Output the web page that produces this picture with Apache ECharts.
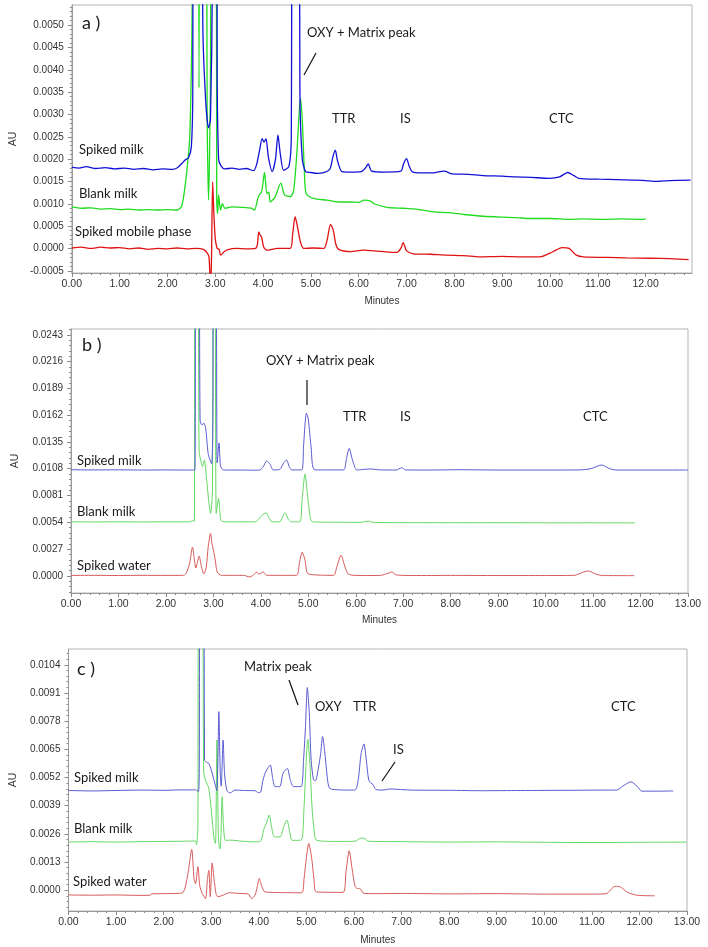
<!DOCTYPE html>
<html><head><meta charset="utf-8">
<script src="https://cdn.jsdelivr.net/npm/echarts@6/dist/echarts.min.js"></script>
<style>html,body{margin:0;padding:0;background:#fff}#c{width:708px;height:947px}</style>
</head><body><div id="c"></div>
<script>
// ---------- Panel a: time (min), absorbance (AU) ----------
const aSpikedMilk = [[0,0.00182],[0.15,0.00180],[0.3,0.00183],[0.5,0.00179],[0.7,0.00181],[0.9,0.00178],[1.1,0.00180],[1.3,0.00177],[1.5,0.00179],[1.7,0.00176],[1.9,0.00178],[2.1,0.00177],[2.2,0.00180],[2.3,0.00190],[2.37,0.00198],[2.44,0.00203],[2.5,0.00228],[2.53,0.0035],[2.56,0.02],[2.66,0.02],[2.74,0.0050],[2.8,0.0033],[2.86,0.0027],[2.9,0.0029],[2.94,0.006],[2.97,0.02],[3.02,0.02],[3.04,0.004],[3.07,0.0020],[3.12,0.00185],[3.2,0.00178],[3.35,0.00180],[3.5,0.00177],[3.65,0.00179],[3.8,0.00174],[3.87,0.0019],[3.93,0.00222],[3.98,0.00246],[4.02,0.00238],[4.06,0.00246],[4.11,0.00205],[4.19,0.00172],[4.26,0.00200],[4.31,0.00254],[4.36,0.00212],[4.43,0.00175],[4.54,0.00183],[4.59,0.0025],[4.63,0.02],[4.72,0.02],[4.77,0.0035],[4.82,0.0020],[4.89,0.00172],[5.0,0.00170],[5.13,0.00168],[5.3,0.00171],[5.4,0.00178],[5.46,0.00205],[5.51,0.0022],[5.56,0.00195],[5.65,0.00172],[5.83,0.00171],[6.05,0.00172],[6.14,0.00180],[6.2,0.00189],[6.27,0.00173],[6.53,0.00171],[6.88,0.00173],[6.94,0.00190],[7.0,0.00201],[7.06,0.00183],[7.13,0.00171],[7.5,0.00169],[7.79,0.00173],[7.95,0.00167],[8.3,0.00166],[8.6,0.00163],[9.0,0.00162],[9.29,0.00160],[9.6,0.00159],[9.99,0.00157],[10.2,0.00160],[10.37,0.0017],[10.5,0.00163],[10.6,0.00157],[11.03,0.00155],[11.4,0.00154],[11.73,0.00153],[12.0,0.00152],[12.21,0.00150],[12.5,0.00152],[12.94,0.00153]];
const aBlankMilk = [[0,0.00093],[0.2,0.00090],[0.4,0.00091],[0.6,0.00088],[0.8,0.00089],[1.0,0.00087],[1.2,0.00088],[1.4,0.00086],[1.6,0.00087],[1.8,0.00086],[2.0,0.00087],[2.2,0.00086],[2.3,0.00095],[2.4,0.00168],[2.47,0.0026],[2.52,0.006],[2.55,0.02],[2.62,0.02],[2.66,0.0036],[2.7,0.02],[2.78,0.02],[2.83,0.003],[2.86,0.00108],[2.9,0.004],[2.93,0.02],[3.0,0.02],[3.03,0.0012],[3.05,0.00078],[3.07,0.0012],[3.11,0.00086],[3.15,0.0010],[3.2,0.00090],[3.35,0.00093],[3.55,0.00092],[3.75,0.00090],[3.82,0.00086],[3.9,0.00116],[3.97,0.00127],[4.03,0.0017],[4.08,0.00123],[4.12,0.00126],[4.15,0.00104],[4.25,0.00115],[4.37,0.00146],[4.45,0.0012],[4.57,0.00116],[4.64,0.0013],[4.71,0.0022],[4.78,0.00336],[4.82,0.00287],[4.86,0.00183],[4.9,0.00123],[5.05,0.00112],[5.34,0.00108],[5.6,0.00104],[5.83,0.00104],[6.0,0.00103],[6.11,0.00108],[6.25,0.00106],[6.32,0.00100],[6.59,0.00092],[6.93,0.0009],[7.2,0.00088],[7.56,0.00082],[7.9,0.00080],[8.2,0.00076],[8.6,0.00072],[9.0,0.00070],[9.3,0.00069],[9.58,0.00067],[10.0,0.00067],[10.4,0.00065],[10.7,0.00066],[11.1,0.00065],[11.5,0.00066],[11.96,0.00065],[12.0,0.00067]];
const aSpikedMobile = [[0,0.00001],[0.2,0.00003],[0.4,0.00000],[0.6,0.00003],[0.8,0.00001],[1.0,0.00002],[1.2,-0.00001],[1.4,0.00001],[1.6,-0.00002],[1.8,0.00000],[2.0,-0.00001],[2.2,0.00001],[2.4,-0.00001],[2.6,0.00000],[2.75,-0.00002],[2.83,-0.0001],[2.87,-0.0002],[2.9,-0.0009],[2.92,-0.0003],[2.945,0.00149],[2.97,0.0008],[3.0,0.00022],[3.04,0.0],[3.08,-0.00002],[3.11,-0.00015],[3.18,-0.00008],[3.25,-0.00003],[3.45,0.00000],[3.65,-0.00001],[3.84,0.0],[3.88,0.00008],[3.91,0.00037],[3.94,0.0003],[3.97,0.00025],[4.01,0.00004],[4.08,-0.00004],[4.3,0.0],[4.57,0.0],[4.62,0.00034],[4.67,0.00071],[4.72,0.00048],[4.78,0.00015],[4.85,0.0],[5.05,0.00001],[5.27,0.0],[5.34,0.00019],[5.41,0.00054],[5.47,0.0004],[5.52,0.0001],[5.58,-0.00002],[5.83,-0.00007],[6.1,-0.00004],[6.4,-0.00006],[6.8,-0.00009],[6.88,0.0],[6.93,0.00013],[7.0,-0.00005],[7.14,-0.00012],[7.5,-0.00013],[7.84,-0.00015],[8.2,-0.00016],[8.53,-0.00019],[9.0,-0.00018],[9.4,-0.00019],[9.79,-0.00019],[10.05,-0.00008],[10.25,0.00002],[10.4,0.00000],[10.55,-0.00015],[10.7,-0.00019],[11.2,-0.0002],[11.6,-0.00021],[12.1,-0.00022],[12.5,-0.00023],[12.9,-0.00025]];

// ---------- Panel b ----------
const bSpikedMilk = [[0,0.01070],[0.5,0.01068],[1.0,0.01069],[1.5,0.01067],[2.0,0.01068],[2.4,0.01067],[2.61,0.01068],[2.63,0.04],[2.69,0.04],[2.72,0.0157],[2.76,0.0152],[2.8,0.0154],[2.84,0.0148],[2.89,0.01235],[2.96,0.0113],[2.99,0.016],[3.0,0.04],[3.05,0.04],[3.08,0.0114],[3.12,0.0134],[3.15,0.0111],[3.21,0.01067],[3.63,0.01067],[3.85,0.01065],[3.98,0.01068],[4.05,0.011],[4.12,0.01158],[4.19,0.0113],[4.26,0.01068],[4.4,0.01074],[4.47,0.0113],[4.54,0.01168],[4.6,0.011],[4.65,0.01068],[4.86,0.01068],[4.9,0.0131],[4.96,0.01639],[5.0,0.0158],[5.06,0.0129],[5.14,0.01068],[5.74,0.01068],[5.8,0.0117],[5.86,0.01285],[5.93,0.0117],[6.02,0.01068],[6.1,0.0107],[6.3,0.01078],[6.5,0.01069],[6.85,0.01067],[6.97,0.0109],[7.05,0.01068],[7.5,0.01067],[8.2,0.0107],[9.0,0.01067],[10.0,0.01067],[10.7,0.01068],[10.95,0.0108],[11.18,0.01118],[11.35,0.0108],[11.5,0.01067],[12.0,0.01067],[13.0,0.01067]];
const bBlankMilk = [[0,0.00545],[0.5,0.00544],[1.0,0.00545],[1.5,0.00544],[2.0,0.00545],[2.5,0.00546],[2.58,0.0056],[2.6,0.0055],[2.61,0.04],[2.67,0.04],[2.7,0.0125],[2.75,0.01134],[2.77,0.0110],[2.81,0.01167],[2.86,0.0096],[2.9,0.0076],[2.94,0.0063],[2.98,0.0085],[3.0,0.04],[3.03,0.04],[3.06,0.0063],[3.11,0.0078],[3.14,0.0063],[3.17,0.00555],[3.3,0.00545],[3.6,0.00545],[3.89,0.00545],[3.93,0.0056],[4.02,0.0061],[4.11,0.00636],[4.17,0.0059],[4.23,0.00545],[4.4,0.00545],[4.45,0.0059],[4.51,0.00636],[4.57,0.0058],[4.64,0.00545],[4.82,0.00545],[4.87,0.0077],[4.93,0.01027],[4.98,0.0083],[5.04,0.0059],[5.09,0.00545],[5.6,0.00541],[6.09,0.0054],[6.2,0.00547],[6.27,0.00553],[6.35,0.0054],[7.0,0.00537],[8.0,0.00536],[9.0,0.00536],[10.0,0.00535],[11.0,0.00535],[11.88,0.00535]];
const bSpikedWater = [[0,0.00005],[0.5,0.00006],[1.0,0.00004],[1.5,0.00006],[2.0,0.00005],[2.37,0.00006],[2.44,0.0004],[2.5,0.0013],[2.56,0.0029],[2.6,0.0016],[2.63,0.0008],[2.66,0.0013],[2.7,0.0020],[2.75,0.0009],[2.8,0.0002],[2.85,0.0009],[2.89,0.0029],[2.94,0.00428],[2.97,0.0033],[3.0,0.0026],[3.04,0.0016],[3.08,0.0004],[3.17,0.00006],[3.63,0.00006],[3.77,-0.0001],[3.87,0.0002],[3.91,0.0004],[3.96,0.00018],[4.05,0.0004],[4.12,0.00006],[4.75,0.00006],[4.81,0.0012],[4.87,0.0024],[4.93,0.0016],[5.0,0.0002],[5.53,0.00006],[5.6,0.0009],[5.69,0.0021],[5.76,0.0011],[5.84,0.0002],[6.0,0.00005],[6.5,0.00004],[6.7,0.0003],[6.76,0.0004],[6.85,0.0001],[7.2,0.00004],[8.0,0.00005],[9.0,0.00004],[10.0,0.00004],[10.6,0.00006],[10.8,0.0004],[10.9,0.0005],[11.05,0.0002],[11.2,0.00004],[11.87,0.00003]];

// ---------- Panel c ----------
const cSpikedMilk = [[0,0.00460],[0.5,0.00458],[1.0,0.00460],[1.5,0.00462],[2.0,0.00461],[2.4,0.00463],[2.67,0.00463],[2.73,0.00454],[2.75,0.0060],[2.76,0.03],[2.83,0.03],[2.86,0.0060],[2.9,0.0059],[2.95,0.00585],[3.02,0.0054],[3.09,0.0048],[3.12,0.0046],[3.14,0.0060],[3.16,0.00824],[3.19,0.0054],[3.21,0.0048],[3.25,0.00693],[3.28,0.0054],[3.33,0.0046],[3.4,0.00449],[3.5,0.00462],[3.7,0.0046],[3.92,0.00459],[3.99,0.0045],[4.04,0.00453],[4.08,0.0050],[4.13,0.00539],[4.18,0.0056],[4.24,0.00578],[4.29,0.0052],[4.34,0.00478],[4.44,0.00478],[4.51,0.0054],[4.6,0.00562],[4.66,0.0051],[4.73,0.00478],[4.89,0.00478],[4.94,0.0060],[4.98,0.0075],[5.02,0.00935],[5.06,0.0082],[5.1,0.0060],[5.15,0.0051],[5.19,0.00505],[5.25,0.0056],[5.3,0.0063],[5.34,0.00709],[5.39,0.0063],[5.44,0.0052],[5.49,0.00470],[5.7,0.00463],[6.02,0.00462],[6.09,0.0051],[6.15,0.0063],[6.21,0.00675],[6.26,0.006],[6.31,0.00508],[6.36,0.00493],[6.4,0.00488],[6.46,0.00465],[6.6,0.00462],[6.76,0.00467],[7.2,0.00462],[8.0,0.00461],[8.67,0.00459],[9.5,0.0046],[10.5,0.00461],[11.3,0.00462],[11.52,0.00462],[11.65,0.0048],[11.82,0.005],[11.95,0.0048],[12.05,0.00457],[12.4,0.00457],[12.71,0.00458]];
const cBlankMilk = [[0,0.00222],[0.5,0.00224],[1.0,0.00222],[1.5,0.00224],[2.0,0.00225],[2.4,0.00226],[2.67,0.00227],[2.69,0.0021],[2.72,0.0030],[2.74,0.03],[2.8,0.03],[2.84,0.0055],[2.88,0.00508],[2.95,0.0047],[3.02,0.00324],[3.06,0.00235],[3.09,0.00216],[3.12,0.00693],[3.15,0.0025],[3.17,0.00200],[3.19,0.0019],[3.23,0.00431],[3.26,0.0029],[3.3,0.0023],[3.4,0.00231],[3.7,0.00225],[3.99,0.00223],[4.05,0.0023],[4.1,0.00277],[4.16,0.0031],[4.22,0.00347],[4.27,0.0029],[4.33,0.00246],[4.45,0.00246],[4.52,0.0029],[4.59,0.00324],[4.65,0.0027],[4.7,0.0023],[4.89,0.00231],[4.95,0.0038],[4.99,0.0057],[5.03,0.00696],[5.07,0.0060],[5.12,0.0038],[5.17,0.0026],[5.21,0.00231],[5.6,0.00225],[6.02,0.00226],[6.14,0.0024],[6.21,0.0024],[6.3,0.00226],[7.0,0.00224],[8.0,0.00222],[9.0,0.00223],[10.0,0.00221],[11.0,0.0022],[12.0,0.00221],[12.99,0.00222]];
const cSpikedWater = [[0,-0.00022],[0.5,-0.00023],[1.0,-0.00022],[1.5,-0.00024],[1.72,-0.00023],[1.74,-0.00017],[2.0,-0.00016],[2.39,-0.00013],[2.45,0.0001],[2.52,0.0009],[2.59,0.00188],[2.64,0.0005],[2.67,0.0003],[2.72,0.00108],[2.76,0.0002],[2.81,-0.00015],[2.88,-0.00039],[2.92,0.0005],[2.95,0.00092],[2.98,-0.0003],[3.02,0.00126],[3.06,0.0005],[3.1,-0.00015],[3.14,-0.0003],[3.25,-0.00023],[3.37,-0.00012],[3.6,-0.00015],[3.78,-0.00018],[3.85,-0.00039],[3.92,-0.00023],[3.97,0.00018],[4.01,0.00054],[4.06,0.0002],[4.13,-0.00008],[4.5,-0.00011],[4.9,-0.00012],[4.95,0.0005],[5.0,0.0015],[5.05,0.00216],[5.11,0.0015],[5.16,0.0005],[5.21,-0.00008],[5.77,-0.0001],[5.83,0.0008],[5.9,0.00182],[5.96,0.001],[6.02,0.0002],[6.07,0.00008],[6.12,0.00008],[6.21,-0.00015],[6.5,-0.00016],[7.0,-0.00015],[8.0,-0.00017],[9.0,-0.00016],[10.0,-0.00018],[11.0,-0.00018],[11.3,-0.00016],[11.49,0.00018],[11.6,0.00015],[11.75,-0.0001],[11.94,-0.00023],[12.32,-0.00026]];

// ---------- tick labels ----------
const aYTicks = [-0.0005,0,0.0005,0.001,0.0015,0.002,0.0025,0.003,0.0035,0.004,0.0045,0.005];
const bYTicks = [0,0.0027,0.0054,0.0081,0.0108,0.0135,0.0162,0.0189,0.0216,0.0243];
const cYTicks = [0,0.0013,0.0026,0.0039,0.0052,0.0065,0.0078,0.0091,0.0104];
const aXTicks = [0,1,2,3,4,5,6,7,8,9,10,11,12];
const bcXTicks = [0,1,2,3,4,5,6,7,8,9,10,11,12,13];
const traceNames = ['Spiked milk','Blank milk','Spiked mobile phase','Spiked water'];

function steps(lo, hi, step) {
  const out = [];
  const n = Math.round((hi - lo) / step);
  for (let i = 0; i <= n; i++) out.push(Math.round((lo + i * step) * 1e7) / 1e7);
  return out;
}

const labelFont = 'Liberation Sans, Arial, sans-serif';
const annFont = 'Lato, "Open Sans", sans-serif';

const panels = [
  { grid: {left: 71, top: 5, width: 621, height: 268}, xMax: 12.97, yMin: -0.00055, yMax: 0.00545,
    yTicks: aYTicks, yMinor: steps(-0.0005, 0.0054, 0.0001), xTicks: aXTicks, xMinor: steps(0, 12.8, 0.2),
    data: [aBlankMilk, aSpikedMilk, aSpikedMobile], names: [traceNames[1], traceNames[0], traceNames[2]],
    colors: ['#1fdc1f', '#1212d6', '#e01212'], lw: 1.3, auGap: 50, minGap: 23 },
  { grid: {left: 71, top: 329, width: 617, height: 264}, xMax: 13, yMin: -0.00172, yMax: 0.02488,
    yTicks: bYTicks, yMinor: steps(-0.00162, 0.02484, 0.00054), xTicks: bcXTicks, xMinor: steps(0, 13, 0.2),
    data: [bBlankMilk, bSpikedMilk, bSpikedWater], names: [traceNames[1], traceNames[0], traceNames[3]],
    colors: ['#62d862', '#5a5ad2', '#d85a5a'], lw: 1, auGap: 50, minGap: 22 },
  { grid: {left: 66, top: 649, width: 621, height: 262}, xMax: 13, yMin: -0.00096, yMax: 0.01113,
    yTicks: cYTicks, yMinor: steps(-0.00078, 0.01092, 0.00026), xTicks: bcXTicks, xMinor: steps(0, 13, 0.2),
    data: [cBlankMilk, cSpikedMilk, cSpikedWater], names: [traceNames[1], traceNames[0], traceNames[3]],
    colors: ['#62d862', '#5a5ad2', '#d85a5a'], lw: 1, auGap: 48, minGap: 24 }
];

const grid = [], xAxis = [], yAxis = [], series = [];
panels.forEach((p, i) => {
  grid.push(Object.assign({show: true, borderColor: '#b5b5b5', borderWidth: 1, backgroundColor: '#fff'}, p.grid));
  const axLine = {show: true, onZero: false, lineStyle: {color: '#9a9a9a', width: 1}};
  // main x axis
  xAxis.push({ type: 'value', gridIndex: i, position: 'bottom', min: 0, max: p.xMax,
    name: 'Minutes', nameLocation: 'middle', nameGap: p.minGap,
    nameTextStyle: {fontFamily: labelFont, fontSize: 10, color: '#333'},
    axisLine: axLine, splitLine: {show: false},
    axisTick: {show: true, customValues: p.xTicks, length: 4, lineStyle: {color: '#8a8a8a'}},
    axisLabel: {customValues: p.xTicks, formatter: v => v.toFixed(2), margin: 6,
      fontFamily: labelFont, fontSize: 10.5, color: '#333', showMaxLabel: true, showMinLabel: true} });
  // minor x ticks
  xAxis.push({ type: 'value', gridIndex: i, position: 'bottom', min: 0, max: p.xMax,
    axisLine: {show: false, onZero: false}, splitLine: {show: false}, axisLabel: {show: false},
    axisTick: {show: true, customValues: p.xMinor, length: 2, lineStyle: {color: '#8a8a8a'}} });
  // main y axis
  yAxis.push({ type: 'value', gridIndex: i, position: 'left', min: p.yMin, max: p.yMax,
    name: 'AU', nameLocation: 'middle', nameGap: p.auGap, nameRotate: 90,
    nameTextStyle: {fontFamily: labelFont, fontSize: 10.5, color: '#333'},
    axisLine: axLine, splitLine: {show: false},
    axisTick: {show: true, customValues: p.yTicks, length: 4, lineStyle: {color: '#8a8a8a'}},
    axisLabel: {customValues: p.yTicks, formatter: v => v.toFixed(4), margin: 8,
      fontFamily: labelFont, fontSize: 10, color: '#333'} });
  // minor y ticks
  yAxis.push({ type: 'value', gridIndex: i, position: 'left', min: p.yMin, max: p.yMax,
    axisLine: {show: false, onZero: false}, splitLine: {show: false}, axisLabel: {show: false},
    axisTick: {show: true, customValues: p.yMinor, length: 2, lineStyle: {color: '#8a8a8a'}} });
  p.data.forEach((d, k) => {
    series.push({ type: 'line', name: p.names[k], xAxisIndex: 2 * i, yAxisIndex: 2 * i, data: d,
      showSymbol: false, symbol: 'none', clip: true, smooth: 0.25, z: 2 + k,
      lineStyle: {color: p.colors[k], width: p.lw}, emphasis: {disabled: true} });
  });
});

function txt(text, x, y, size) {
  return { type: 'text', x: x, y: y, z: 100, silent: true,
    style: { text: text, x: 0, y: 0, fill: '#1a1a1a', font: (size || 13) + 'px ' + annFont,
      align: 'left', verticalAlign: 'middle' } };
}
function seg(x1, y1, x2, y2) {
  return { type: 'line', z: 100, silent: true, shape: {x1: x1, y1: y1, x2: x2, y2: y2},
    style: {stroke: '#111', lineWidth: 1.2} };
}

const graphic = [
  // panel a
  txt('a )', 82, 23, 18), txt('OXY + Matrix peak', 307, 33), seg(304, 75, 316, 53),
  txt('TTR', 332, 119), txt('IS', 400, 119), txt('CTC', 549, 119),
  txt('Spiked milk', 79, 150), txt('Blank milk', 79, 194), txt('Spiked mobile phase', 75, 232),
  // panel b
  txt('b )', 82, 345, 18), txt('OXY + Matrix peak', 266, 361), seg(307, 380, 307, 405),
  txt('TTR', 343, 417), txt('IS', 400, 417), txt('CTC', 583, 417),
  txt('Spiked milk', 77, 461), txt('Blank milk', 77, 512), txt('Spiked water', 77, 566),
  // panel c
  txt('c )', 77, 669, 18), txt('Matrix peak', 244, 667), seg(289, 680, 298, 705),
  txt('OXY', 315, 707), txt('TTR', 353, 707), txt('IS', 393, 750), seg(395, 762, 382, 781),
  txt('CTC', 611, 707),
  txt('Spiked milk', 74, 778), txt('Blank milk', 74, 829), txt('Spiked water', 73, 882)
];

const chart = echarts.init(document.getElementById('c'), null, {renderer: 'canvas'});
chart.setOption({ animation: false, backgroundColor: '#fff', grid, xAxis, yAxis, series, graphic });
</script></body></html>
